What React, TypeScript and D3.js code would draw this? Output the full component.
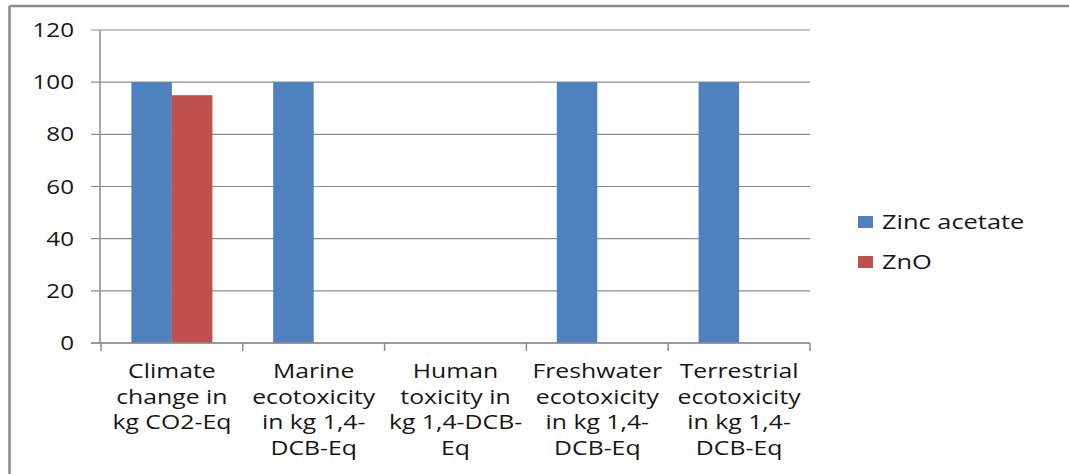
import * as d3 from "d3";
import React from "react";

const categories: string[][] = [
  ["Climate", "change in", "kg CO2-Eq"],
  ["Marine", "ecotoxicity", "in kg 1,4-", "DCB-Eq"],
  ["Human", "toxicity in", "kg 1,4-DCB-", "Eq"],
  ["Freshwater", "ecotoxicity", "in kg 1,4-", "DCB-Eq"],
  ["Terrestrial", "ecotoxicity", "in kg 1,4-", "DCB-Eq"],
];
const seriesNames = ["Zinc acetate", "ZnO"];
const zincAcetate: (number | null)[] = [100, 100, null, 100, 100];
const znO: (number | null)[] = [95, null, null, null, null];
const yTicks = [0, 20, 40, 60, 80, 100, 120];
const colors = ["#4F81BD", "#C0504D"];

const W = 1069;
const H = 474;
const FONT = "'Open Sans', sans-serif";
const SX = 1.24; // the source picture is stretched sideways

export default function App() {
  const series = [zincAcetate, znO];
  const keys = categories.map((c) => c.join(" "));

  const x = d3.scaleBand<string>().domain(keys).range([101, 810]);
  const bw = x.bandwidth();
  const barW = bw / 3.5; // Excel gap width 150%
  const inner = d3
    .scaleBand<string>()
    .domain(seriesNames)
    .range([barW * 0.75, bw - barW * 0.75]);
  const y = d3.scaleLinear().domain([0, 120]).range([343, 30]);

  const grid = "#8c8c8c";
  const ink = "#161616";

  return (
    <svg
      width={W}
      height={H}
      style={{ position: "absolute", left: 0, top: 0, background: "#fff", overflow: "hidden" }}
      fontFamily={FONT}
    >
      {/* outer chart border, only top and left visible */}
      <line x1={9.5} x2={W} y1={6} y2={6} stroke="#8a8a8a" strokeWidth={2.5} />
      <line x1={9.5} x2={9.5} y1={6} y2={H} stroke="#8a8a8a" strokeWidth={2.5} />

      {/* gridlines and y ticks */}
      {yTicks.map((t) => (
        <g key={t}>
          <line x1={91} x2={810} y1={y(t)} y2={y(t)} stroke={grid} strokeWidth={1.2} />
          <text
            transform={`translate(74,${y(t) + 7}) scale(${SX},1)`}
            textAnchor="end"
            fontSize={19.5}
            fill={ink}
          >
            {t}
          </text>
        </g>
      ))}

      {/* bars */}
      {keys.map((k, i) => (
        <g key={k} transform={`translate(${x(k)},0)`}>
          {series.map((s, j) => {
            const v = s[i];
            if (v == null) return null;
            return (
              <rect
                key={j}
                x={inner(seriesNames[j])}
                y={y(v)}
                width={inner.bandwidth()}
                height={y(0) - y(v)}
                fill={colors[j]}
              />
            );
          })}
        </g>
      ))}

      {/* axes */}
      <line x1={100} x2={100} y1={y(120)} y2={y(0)} stroke={grid} strokeWidth={1.5} />
      <line x1={91} x2={810} y1={y(0)} y2={y(0)} stroke={grid} strokeWidth={1.5} />
      {[...keys.map((k) => x(k)!), 810].map((px, i) => (
        <line key={i} x1={px} x2={px} y1={y(0)} y2={y(0) + 8} stroke={grid} strokeWidth={1.5} />
      ))}

      {/* category labels */}
      {categories.map((lines, i) => (
        <g key={i}>
          {lines.map((ln, li) => (
            <text
              key={li}
              transform={`translate(${x(keys[i])! + bw / 2},${378 + li * 25.7}) scale(${SX},1)`}
              textAnchor="middle"
              fontSize={20}
              fill={ink}
            >
              {ln}
            </text>
          ))}
        </g>
      ))}

      {/* legend */}
      {seriesNames.map((n, i) => (
        <g key={n} transform={`translate(858,${216 + i * 40})`}>
          <rect x={0} y={0} width={15} height={12} fill={colors[i]} />
          <text transform={`translate(24,12.5) scale(${SX},1)`} fontSize={20.5} fill={ink}>
            {n}
          </text>
        </g>
      ))}
    </svg>
  );
}
